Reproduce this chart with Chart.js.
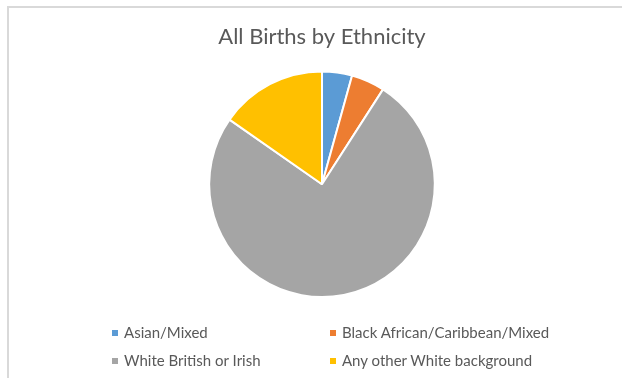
<!DOCTYPE html>
<html>
<head>
<meta charset="utf-8">
<title>All Births by Ethnicity</title>
<script src="https://cdn.jsdelivr.net/npm/chart.js@4"></script>
<style>
  body { margin: 0; background: #fff; }
  .wrap { position: relative; width: 622px; height: 378px; overflow: hidden; }
  .frame { position: absolute; left: 7px; top: 6px; width: 700px; height: 500px; border: 2px solid #d9d9d9; box-sizing: border-box; }
  canvas { position: absolute; left: 0; top: 0; }
  .legend { position: absolute; left: 0; top: 0; font-family: Lato, sans-serif; font-size: 15px; color: #595959; }
  .legend .item { position: absolute; white-space: nowrap; line-height: 18px; }
  .legend .box { display: inline-block; width: 6px; height: 6px; margin-right: 6px; vertical-align: 2px; }
</style>
</head>
<body>
<div class="wrap">
  <div class="frame"></div>
  <canvas id="myChart" width="622" height="378"></canvas>
  <div class="legend js-legend"></div>
</div>
<script>
const labels = ['Asian/Mixed', 'Black African/Caribbean/Mixed', 'White British or Irish', 'Any other White background'];
const births = [4.3, 4.8, 75.6, 15.3];
const colours = ['#5B9BD5', '#ED7D31', '#A5A5A5', '#FFC000'];

// legend slots, two columns by two rows
const legendX = [112, 330];
const legendY = [323, 351];

const init = function () {
  const ctx = document.getElementById('myChart').getContext('2d');
  new Chart(ctx, {
    type: 'pie',
    data: {
      labels: labels,
      datasets: [
        {
          data: births,
          backgroundColor: colours,
          borderColor: '#ffffff',
          borderWidth: 2,
        },
      ],
    },
    options: {
      responsive: false,
      animation: false,
      layout: { padding: { left: 22, right: 0, top: 0, bottom: 80 } },
      plugins: {
        legend: { display: false },
        tooltip: { enabled: false },
        title: {
          display: true,
          text: 'All Births by Ethnicity',
          color: '#595959',
          font: { family: 'Lato', size: 22, weight: 'normal' },
          padding: { top: 24, bottom: 20 },
        },
      },
    },
  });

  const legend = document.querySelector('.js-legend');
  let html = '';
  labels.forEach(function (name, i) {
    const x = legendX[i % 2];
    const y = legendY[Math.floor(i / 2)];
    html += `<div class="item" style="left:${x}px;top:${y}px"><span class="box" style="background:${colours[i]}"></span>${name}</div>`;
  });
  legend.innerHTML = html;
};

document.addEventListener('DOMContentLoaded', init);
</script>
</body>
</html>
